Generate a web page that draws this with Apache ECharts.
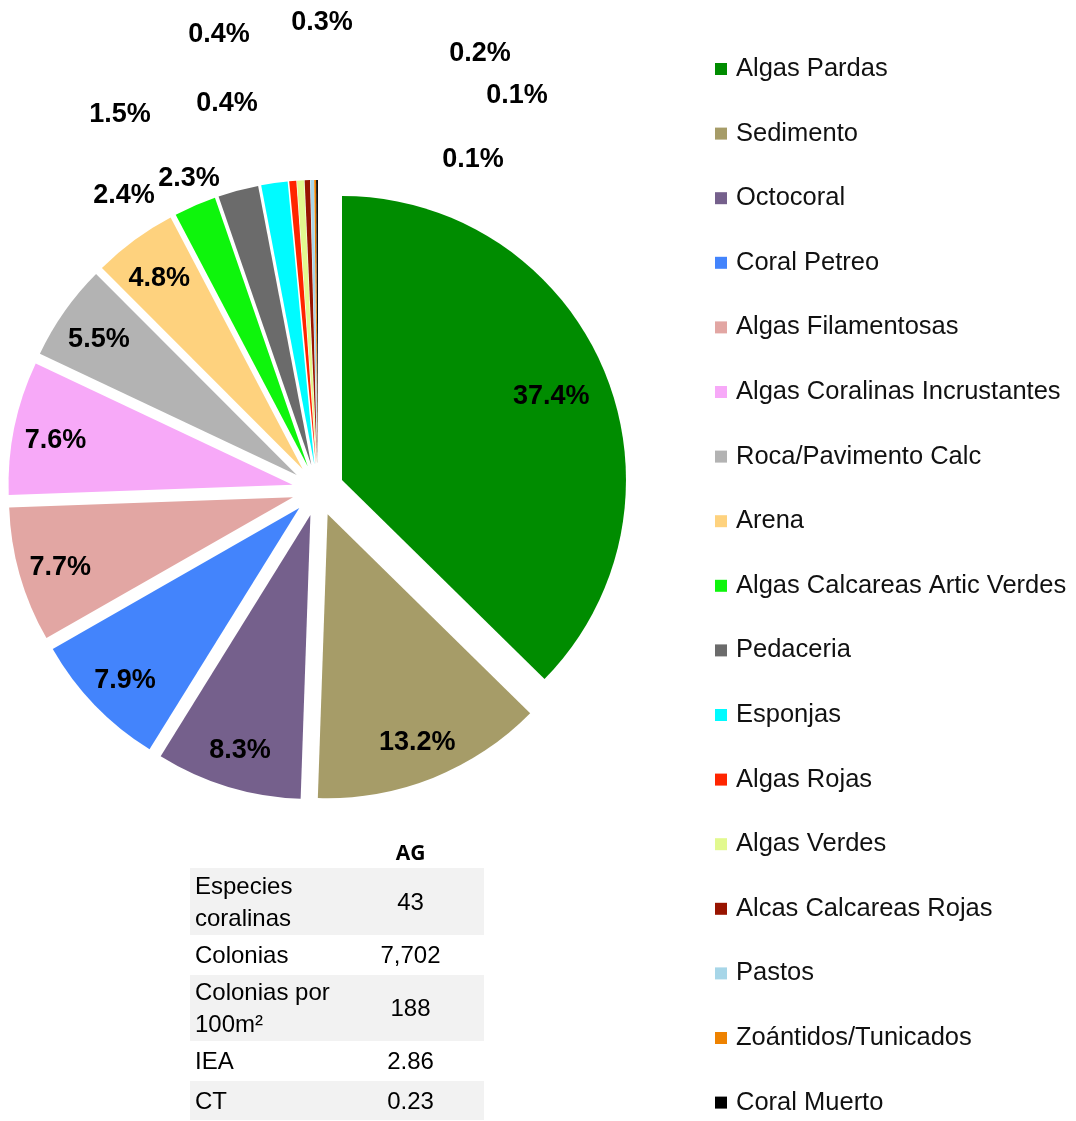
<!DOCTYPE html>
<html lang="es">
<head>
<meta charset="UTF-8">
<title>Cobertura bentónica AG</title>
<script src="https://cdn.jsdelivr.net/npm/echarts@6/dist/echarts.min.js"></script>
<style>
    body { margin: 0; background: #fff; }
    #main { position: absolute; left: 0; top: 0; width: 1076px; height: 1121px; }
    #tabla { position: absolute; left: 190px; top: 836px; width: 294px; border-collapse: collapse;
             table-layout: fixed; font-family: 'Liberation Sans', Arial, sans-serif; font-size: 24px; color: #000; }
    #tabla td { padding: 0; line-height: 32px; vertical-align: middle; }
    #tabla td.c1 { width: 147px; padding-left: 5px; text-align: left; }
    #tabla td.c2 { text-align: center; }
    #tabla tr.gris td { background: #f2f2f2; }
    #tabla th { font-family: 'Open Sans', sans-serif; font-weight: bold; font-size: 21px; height: 32px; padding: 0; }
</style>
</head>
<body>
<div id="main"></div>
<table id="tabla">
    <tr><th></th><th>AG</th></tr>
    <tr class="gris" style="height:67px"><td class="c1">Especies coralinas</td><td class="c2">43</td></tr>
    <tr style="height:40px"><td class="c1">Colonias</td><td class="c2">7,702</td></tr>
    <tr class="gris" style="height:66px"><td class="c1">Colonias por 100m²</td><td class="c2">188</td></tr>
    <tr style="height:40px"><td class="c1">IEA</td><td class="c2">2.86</td></tr>
    <tr class="gris" style="height:39px"><td class="c1">CT</td><td class="c2">0.23</td></tr>
</table>
<script>
    // categorias y porcentajes de cobertura
    var names = ['Algas Pardas', 'Sedimento', 'Octocoral', 'Coral Petreo', 'Algas Filamentosas',
        'Algas Coralinas Incrustantes', 'Roca/Pavimento Calc', 'Arena', 'Algas Calcareas Artic Verdes',
        'Pedaceria', 'Esponjas', 'Algas Rojas', 'Algas Verdes', 'Alcas Calcareas Rojas', 'Pastos',
        'Zoántidos/Tunicados', 'Coral Muerto'];
    var values = [37.4, 13.2, 8.3, 7.9, 7.7, 7.6, 5.5, 4.8, 2.4, 2.3, 1.5, 0.4, 0.4, 0.3, 0.2, 0.1, 0.1];
    var colors = ['#008c00', '#a69c68', '#75608c', '#4384fc', '#e2a6a3', '#f7a9f8', '#b3b3b3', '#fed27e',
        '#0ef50c', '#6b6b6b', '#00fbff', '#ff2500', '#e2f98f', '#981400', '#a7d6e8', '#ee8200', '#000000'];

    // etiquetas desplazadas de las rebanadas pequenas
    var fixedLabels = {
        'Algas Calcareas Artic Verdes': [124, 193],
        'Pedaceria': [189, 176],
        'Esponjas': [120, 112],
        'Algas Rojas': [219, 32],
        'Algas Verdes': [227, 101],
        'Alcas Calcareas Rojas': [322, 20],
        'Pastos': [480, 51],
        'Zoántidos/Tunicados': [517, 93],
        'Coral Muerto': [473, 157]
    };

    var cx = 318, cy = 490, R = 284, shift = 26;
    var total = values.reduce(function (a, b) { return a + b; }, 0);

    var myChart = echarts.init(document.getElementById('main'));

    var sliceData = names.map(function (n, i) {
        return { name: n, value: values[i], selected: true, itemStyle: { color: colors[i] } };
    });
    // copia invisible solo para las etiquetas
    var labelData = names.map(function (n, i) {
        return { name: n, value: values[i], itemStyle: { color: 'rgba(0,0,0,0)' } };
    });

    var option = {
        animation: false,
        legend: {
            orient: 'vertical',
            left: 715,
            top: 54,
            height: 1067,
            padding: 0,
            itemWidth: 12,
            itemHeight: 12,
            itemGap: 34.6,
            icon: 'rect',
            selectedMode: false,
            textStyle: {
                fontFamily: 'Liberation Sans, Arial, sans-serif',
                fontSize: 25.5,
                lineHeight: 30,
                color: '#111',
                padding: [0, 0, 0, 4]
            },
            data: names
        },
        series: [{
            type: 'pie',
            center: [cx, cy],
            radius: R,
            startAngle: 90,
            clockwise: true,
            selectedMode: 'multiple',
            selectedOffset: shift,
            emphasis: { disabled: true },
            label: { show: false },
            labelLine: { show: false },
            data: sliceData
        }, {
            type: 'pie',
            center: [cx, cy],
            radius: R,
            startAngle: 90,
            clockwise: true,
            silent: true,
            selectedMode: false,
            avoidLabelOverlap: false,
            emphasis: { disabled: true },
            z: 5,
            label: {
                show: true,
                position: 'inside',
                fontFamily: 'Liberation Sans, Arial, sans-serif',
                fontWeight: 'bold',
                fontSize: 27,
                color: '#000',
                formatter: function (p) { return p.value.toFixed(1) + '%'; }
            },
            labelLine: { show: false },
            labelLayout: function (p) {
                var i = p.dataIndex;
                var n = names[i];
                if (fixedLabels[n]) {
                    return { x: fixedLabels[n][0], y: fixedLabels[n][1] + 3, align: 'center', verticalAlign: 'middle' };
                }
                var before = 0;
                for (var j = 0; j < i; j++) before += values[j];
                var mid = (before + values[i] / 2) / total * 2 * Math.PI;
                var r = shift + (i === 0 ? 227 : 242);
                return { x: cx + r * Math.sin(mid), y: cy - r * Math.cos(mid) + 4, align: 'center', verticalAlign: 'middle' };
            },
            data: labelData
        }]
    };
    myChart.setOption(option);
</script>
</body>
</html>
